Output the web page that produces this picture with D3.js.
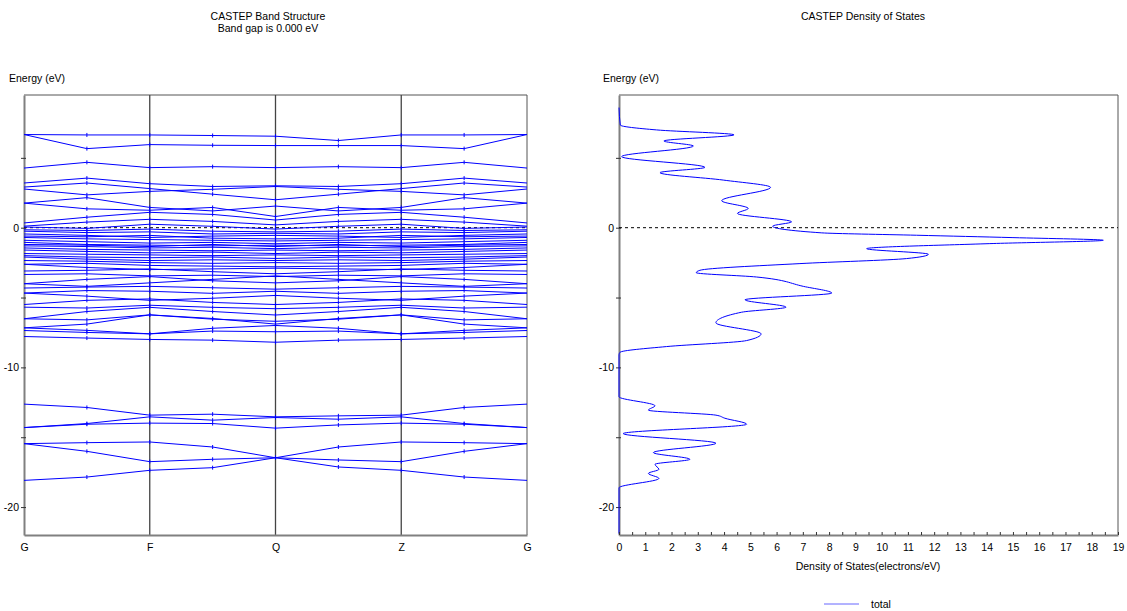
<!DOCTYPE html>
<html>
<head>
<meta charset="utf-8">
<script src="https://cdn.jsdelivr.net/npm/d3@7"></script>
<style>
    body { margin: 0; background: #fff; }
    text { font-family: Tahoma, "Liberation Sans", Arial, sans-serif; font-size: 10.5px; fill: #000; }
</style>
</head>
<body>
<svg id="chart" width="1127" height="611"></svg>
<script>
// k-path: G, mid, F, mid, Q, mid, Z, mid, G
const kLabels = ["G", "F", "Q", "Z", "G"];
const kIndex = [0, 1, 2, 3, 4, 5, 6, 7, 8];
const energyTicks = [5, 0, -5, -10, -15, -20];
const dosTicks = d3.range(0, 19.5, 0.5);

// band energies (eV) at each k point
const bandsUpper = [
    [6.67, 6.64, 6.64, 6.60, 6.55, 6.24, 6.64, 6.64, 6.67],
    [6.67, 5.66, 5.95, 5.90, 5.88, 5.88, 5.88, 5.66, 6.67],
    [4.27, 4.68, 4.30, 4.37, 4.30, 4.37, 4.30, 4.68, 4.27],
    [3.20, 3.55, 3.15, 2.95, 3.00, 2.95, 3.15, 3.55, 3.20],
    [2.91, 3.20, 2.80, 2.40, 2.00, 2.40, 2.80, 3.20, 2.91],
    [2.77, 2.35, 2.60, 2.75, 2.95, 2.75, 2.60, 2.35, 2.77],
    [1.76, 2.15, 1.45, 1.20, 1.55, 1.20, 1.45, 2.15, 1.76],
    [1.76, 1.35, 1.25, 1.45, 0.80, 1.45, 1.25, 1.35, 1.76],
    [0.34, 0.75, 1.10, 0.95, 0.55, 0.95, 1.10, 0.75, 0.34],
    [0.11, 0.40, 0.60, 0.45, 0.20, 0.45, 0.60, 0.40, 0.11],
    [0.05, -0.05, 0.25, 0.10, -0.10, 0.10, 0.25, -0.05, 0.05]
];
const bandsDense = [
    [-0.15, -0.20, -0.10, -0.25, -0.30, -0.25, -0.10, -0.20, -0.15],
    [-0.25, -0.35, -0.30, -0.45, -0.40, -0.45, -0.30, -0.35, -0.25],
    [-0.45, -0.55, -0.70, -0.60, -0.55, -0.60, -0.70, -0.55, -0.45],
    [-0.60, -0.65, -0.55, -0.75, -0.80, -0.75, -0.55, -0.65, -0.60],
    [-0.70, -0.80, -0.85, -0.90, -0.95, -0.90, -0.85, -0.80, -0.70],
    [-0.90, -1.00, -1.10, -1.05, -1.15, -1.05, -1.10, -1.00, -0.90],
    [-1.05, -1.20, -1.25, -1.30, -1.25, -1.30, -1.25, -1.20, -1.05],
    [-1.20, -1.25, -1.35, -1.20, -1.35, -1.20, -1.35, -1.25, -1.20],
    [-1.30, -1.35, -1.45, -1.40, -1.50, -1.40, -1.45, -1.35, -1.30],
    [-1.45, -1.55, -1.60, -1.65, -1.60, -1.65, -1.60, -1.55, -1.45],
    [-1.60, -1.70, -1.80, -1.75, -1.85, -1.75, -1.80, -1.70, -1.60],
    [-1.85, -1.90, -1.95, -2.00, -1.95, -2.00, -1.95, -1.90, -1.85],
    [-2.00, -2.10, -2.15, -2.10, -2.20, -2.10, -2.15, -2.10, -2.00],
    [-2.10, -2.25, -2.35, -2.30, -2.35, -2.30, -2.35, -2.25, -2.10],
    [-2.35, -2.40, -2.50, -2.55, -2.50, -2.55, -2.50, -2.40, -2.35],
    [-2.62, -2.55, -2.70, -2.75, -2.80, -2.75, -2.70, -2.55, -2.62],
    [-2.62, -2.85, -3.00, -2.95, -2.90, -2.95, -3.00, -2.85, -2.62],
    [-3.10, -3.05, -2.95, -3.15, -3.30, -3.15, -2.95, -3.05, -3.10],
    [-3.35, -3.30, -3.45, -3.40, -3.50, -3.40, -3.45, -3.30, -3.35]
];
const bandsMiddle = [
    [-4.01, -3.70, -3.50, -3.80, -3.95, -3.80, -3.50, -3.70, -4.01],
    [-4.01, -4.20, -3.95, -3.70, -3.45, -3.70, -3.95, -4.20, -4.01],
    [-4.32, -4.25, -4.20, -4.30, -4.40, -4.30, -4.20, -4.25, -4.32],
    [-4.68, -4.50, -4.55, -4.70, -4.55, -4.70, -4.55, -4.50, -4.68],
    [-4.68, -4.90, -5.20, -5.05, -4.85, -5.05, -5.20, -4.90, -4.68],
    [-5.50, -5.20, -5.10, -5.35, -5.50, -5.35, -5.10, -5.20, -5.50],
    [-5.69, -5.75, -5.55, -5.70, -5.80, -5.70, -5.55, -5.75, -5.69],
    [-6.52, -6.00, -5.70, -6.00, -6.25, -6.00, -5.70, -6.00, -6.52],
    [-6.52, -6.60, -6.24, -6.55, -6.70, -6.55, -6.24, -6.60, -6.52],
    [-7.17, -6.90, -6.24, -6.50, -6.90, -6.50, -6.24, -6.90, -7.17],
    [-7.17, -7.35, -7.60, -7.20, -7.00, -7.20, -7.60, -7.35, -7.17],
    [-7.36, -7.50, -7.60, -7.40, -7.45, -7.40, -7.60, -7.50, -7.36],
    [-7.79, -7.90, -8.00, -8.05, -8.20, -8.05, -8.00, -7.90, -7.79]
];
const bandsLower = [
    [-12.63, -12.87, -13.42, -13.35, -13.54, -13.47, -13.42, -12.87, -12.63],
    [-14.31, -14.02, -13.54, -13.78, -13.59, -13.71, -13.54, -14.02, -14.31],
    [-14.31, -14.07, -13.99, -14.02, -14.35, -14.12, -13.99, -14.07, -14.31],
    [-15.46, -15.39, -15.34, -15.70, -16.47, -15.70, -15.34, -15.39, -15.46],
    [-15.46, -16.01, -16.75, -16.58, -16.47, -16.63, -16.75, -16.01, -15.46],
    [-18.09, -17.85, -17.37, -17.18, -16.47, -17.13, -17.37, -17.85, -18.09]
];

// total DOS, energy (eV) and states (electrons/eV)
const dosEnergy = [8.6, 7.35, 7.0, 6.65, 6.21, 5.85, 5.09, 4.32, 3.94, 3.41, 2.89, 1.93, 1.38, 1.02,
    0.42, 0.11, -0.37, -0.54, -0.71, -0.90, -1.14, -1.50, -1.90, -2.21, -2.57, -3.05, -3.22, -3.53,
    -4.20, -4.68, -5.16, -5.69, -6.05, -6.81, -7.60, -8.08, -8.51, -8.92, -9.10, -12.10, -12.75,
    -13.06, -13.42, -13.64, -14.07, -14.74, -15.43, -16.10, -16.58, -16.94, -17.30, -17.59, -17.95,
    -18.62, -21.9];
const dosTotal = [0, 0.05, 1.43, 4.38, 1.71, 2.83, 0.10, 3.27, 1.56, 3.97, 5.77, 3.91, 4.92, 4.51,
    6.57, 5.85, 7.72, 11.33, 15.0, 18.44, 14.12, 9.43, 11.78, 10.95, 6.89, 3.08, 2.94, 5.24,
    7.02, 8.10, 4.80, 6.36, 4.67, 3.69, 5.41, 4.86, 1.81, 0.04, 0, 0, 1.37,
    1.12, 3.69, 4.03, 4.86, 0.16, 3.69, 1.31, 2.70, 1.37, 1.52, 1.12, 1.52,
    0, 0];

let svg = d3.select("#chart");
let plotTop = 95, plotBottom = 535;
let bandLeft = 24, bandRight = 527;
let dosLeft = 619, dosRight = 1118;

let y = d3.scaleLinear().domain([-22.0, 9.5]).range([plotBottom, plotTop]);
let xK = d3.scaleLinear().domain([0, 8]).range([bandLeft, bandRight]);
let xDos = d3.scaleLinear().domain([0, 19]).range([dosLeft, dosRight]);

// titles
svg.append("text").attr("x", 268).attr("y", 20).attr("text-anchor", "middle").text("CASTEP Band Structure");
svg.append("text").attr("x", 268).attr("y", 32).attr("text-anchor", "middle").text("Band gap is 0.000 eV");
svg.append("text").attr("x", 863).attr("y", 20).attr("text-anchor", "middle").text("CASTEP Density of States");
svg.append("text").attr("x", 9).attr("y", 82).text("Energy (eV)");
svg.append("text").attr("x", 603).attr("y", 82).text("Energy (eV)");

function drawFrame(x0, x1) {
    svg.append("line").attr("x1", x0).attr("x2", x1).attr("y1", plotTop).attr("y2", plotTop)
        .attr("stroke", "#555").attr("stroke-width", 1);
    svg.append("line").attr("x1", x1).attr("x2", x1).attr("y1", plotTop).attr("y2", plotBottom)
        .attr("stroke", "#555").attr("stroke-width", 1);

    let yAxis = svg.append("g")
        .attr("transform", "translate(" + x0 + ",0)")
        .call(d3.axisLeft(y).tickValues(energyTicks).tickSizeOuter(0).tickSizeInner(3).tickPadding(2)
            .tickFormat(d => d % 10 === 0 ? d : ""));
    yAxis.select(".domain").attr("stroke", "#808080").attr("stroke-width", 2);
    yAxis.selectAll(".tick line").attr("stroke", "#333").attr("x2", -3).attr("x1", 2);
    yAxis.selectAll("text").style("font-size", "10.5px").style("font-family", null);

    // zero line
    svg.append("line").attr("x1", x0).attr("x2", x1).attr("y1", y(0)).attr("y2", y(0))
        .attr("stroke", "#000").attr("stroke-dasharray", "3,3");
}

// ---- band structure ----
drawFrame(bandLeft, bandRight);

[2, 4, 6].forEach(function (k) {
    svg.append("line").attr("x1", xK(k)).attr("x2", xK(k)).attr("y1", plotTop).attr("y2", plotBottom)
        .attr("stroke", "#444").attr("stroke-width", 1.3);
});

let bands = bandsUpper.concat(bandsDense, bandsMiddle, bandsLower);
let bandLine = d3.line()
    .x(function (d, i) { return xK(kIndex[i]); })
    .y(function (d) { return y(d); });

let bandG = svg.append("g");
bandG.selectAll("path")
    .data(bands)
    .enter().append("path")
    .attr("d", bandLine)
    .attr("fill", "none")
    .attr("stroke", "#0000ff")
    .attr("stroke-width", 1);

// point markers
bands.forEach(function (b) {
    bandG.selectAll(null)
        .data(b.slice(1, 8))
        .enter().append("line")
        .attr("x1", (d, i) => xK(kIndex[i + 1])).attr("x2", (d, i) => xK(kIndex[i + 1]))
        .attr("y1", d => y(d) - 2).attr("y2", d => y(d) + 2)
        .attr("stroke", "#0000ff").attr("stroke-width", 1);
});

let kAxis = svg.append("g")
    .attr("transform", "translate(0," + plotBottom + ")")
    .call(d3.axisBottom(xK).tickValues([0, 2, 4, 6, 8]).tickSize(0).tickPadding(9)
        .tickFormat((d, i) => kLabels[i]));
kAxis.select(".domain").attr("stroke", "#808080").attr("stroke-width", 2);
kAxis.selectAll("text").style("font-size", "10.5px").style("font-family", null);

// ---- density of states ----
drawFrame(dosLeft, dosRight);

let dosData = dosEnergy.map(function (e, i) { return {e: e, v: dosTotal[i]}; });
svg.append("path")
    .datum(dosData)
    .attr("fill", "none")
    .attr("stroke", "#0000ff")
    .attr("stroke-width", 1)
    .attr("d", d3.line()
        .x(d => xDos(d.v))
        .y(d => y(d.e))
        .curve(d3.curveMonotoneY));

let dosAxis = svg.append("g")
    .attr("transform", "translate(0," + plotBottom + ")")
    .call(d3.axisBottom(xDos).tickValues(dosTicks).tickSizeOuter(0).tickSizeInner(-3).tickPadding(9)
        .tickFormat(d => Number.isInteger(d) ? d : ""));
dosAxis.select(".domain").attr("stroke", "#808080").attr("stroke-width", 2);
dosAxis.selectAll(".tick line").attr("stroke", "#333");
dosAxis.selectAll("text").style("font-size", "10.5px").style("font-family", null);

svg.append("text").attr("x", 868).attr("y", 570).attr("text-anchor", "middle")
    .text("Density of States(electrons/eV)");

// legend
svg.append("line").attr("x1", 824).attr("x2", 859).attr("y1", 604).attr("y2", 604)
    .attr("stroke", "#6666ff").attr("stroke-width", 1);
svg.append("text").attr("x", 871).attr("y", 608).text("total");
</script>
</body>
</html>
